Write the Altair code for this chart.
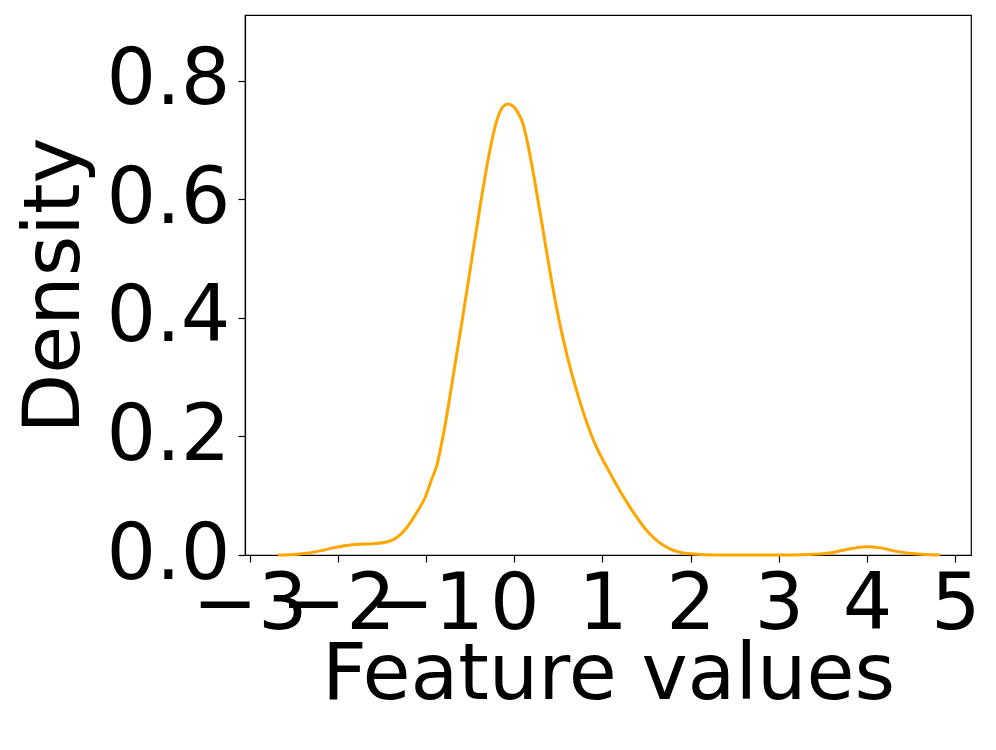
import altair as alt
import pandas as pd

# KDE curve
feature_x = [-2.68, -2.5, -2.35, -2.2, -2.05, -1.9, -1.75, -1.6, -1.45, -1.37, -1.30,
             -1.22, -1.15, -1.08, -1.01, -0.94, -0.876, -0.83, -0.78, -0.688, -0.593, -0.50,
             -0.385, -0.29, -0.196, -0.13, -0.07, -0.01, 0.05, 0.10, 0.144, 0.19, 0.24,
             0.33, 0.41, 0.484, 0.597, 0.73, 0.90, 1.09, 1.315, 1.54, 1.77, 2.0, 2.3,
             2.7, 3.1, 3.35, 3.5, 3.73, 3.87, 4.0, 4.15, 4.30, 4.53, 4.83]
density = [0.000, 0.001, 0.003, 0.007, 0.012, 0.016, 0.018, 0.019, 0.022, 0.026, 0.033,
           0.046, 0.061, 0.078, 0.097, 0.126, 0.152, 0.183, 0.222, 0.306, 0.393, 0.481,
           0.590, 0.672, 0.734, 0.756, 0.761, 0.757, 0.744, 0.727, 0.700, 0.666, 0.624,
           0.545, 0.474, 0.414, 0.338, 0.266, 0.193, 0.137, 0.080, 0.035, 0.010, 0.002,
           0.000, 0.000, 0.000, 0.001, 0.002, 0.008, 0.012, 0.014, 0.012, 0.007, 0.002,
           0.000]

x_ticks = [-3, -2, -1, 0, 1, 2, 3, 4, 5]
y_ticks = [0.0, 0.2, 0.4, 0.6, 0.8]

df = pd.DataFrame({"x": feature_x, "d": density})

chart = alt.Chart(df).mark_line(
    color="#FFA500", strokeWidth=3, interpolate="monotone"
).encode(
    x=alt.X("x:Q", title="Feature values",
            scale=alt.Scale(domain=[-3.052, 5.178], nice=False, zero=False),
            axis=alt.Axis(values=x_ticks, format="d", labelOverlap=False,
                          labelFlush=False, labelBound=False, labelPadding=4,
                          titlePadding=-8)),
    y=alt.Y("d:Q", title="Density",
            scale=alt.Scale(domain=[0, 0.911], nice=False),
            axis=alt.Axis(values=y_ticks, format=".1f", labelOverlap=False,
                          labelFlush=False, labelBound=False, labelPadding=8,
                          titlePadding=11)),
).properties(
    width=726, height=540,
    background="white",
    autosize=alt.AutoSizeParams(type="none"),
    padding={"left": 237, "top": 7, "right": 10, "bottom": 185},
).configure_view(
    stroke="black", strokeWidth=1.2
).configure_axis(
    labelFont="DejaVu Sans", titleFont="DejaVu Sans",
    labelFontSize=78, titleFontSize=78, titleFontWeight="normal",
    labelColor="black", titleColor="black",
    domainColor="black", domainWidth=1.2,
    tickColor="black", tickSize=7, tickWidth=1.2,
    grid=False,
)

chart.save("out.html", embed_options={"renderer": "svg", "actions": False})
